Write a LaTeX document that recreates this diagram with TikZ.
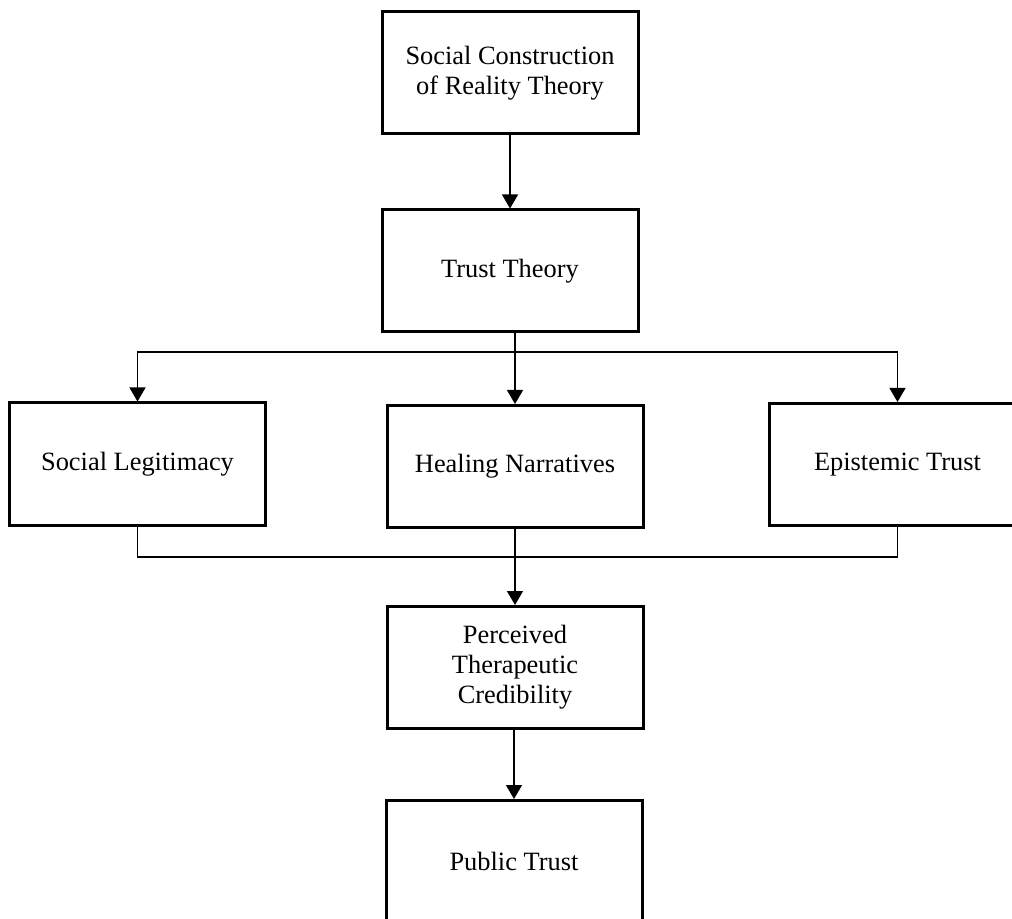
\documentclass[tikz,border=0pt]{standalone}
\usepackage{fontspec}
\setmainfont{Liberation Serif}
\usetikzlibrary{arrows.meta,calc}
\begin{document}
\begin{tikzpicture}[x=0.5pt,y=-0.5pt,
  box/.style={draw,line width=1.5pt,minimum width=128pt,minimum height=61pt,inner sep=0pt,align=center,font=\fontsize{13.2}{15}\selectfont},
  arr/.style={line width=0.7pt,-{Triangle[width=8pt,length=7pt]}},
  ln/.style={line width=0.7pt}]
\useasboundingbox (0,0) rectangle (1012,919);
\node[box] (src) at (510,73) {Social Construction\\of Reality Theory};
\node[box] (tt) at (510,271) {Trust Theory};
\node[box] (sl) at (137.5,464) {Social Legitimacy};
\node[box] (hn) at (515,466.5) {Healing Narratives};
\node[box] (et) at (897.5,464.5) {Epistemic Trust};
\node[box] (ptc) at (515,667.5) {Perceived\\Therapeutic\\Credibility};
\node[box] (pt) at (514,861.5) {Public Trust};
\coordinate (j1) at (515,352);
\coordinate (j2) at (515,557);
\draw[arr] (src.south) -- (tt.north);
\draw[arr] (tt.south -| hn.north) -- (hn.north);
\draw[arr] (j1) -| (sl.north);
\draw[arr] (j1) -| (et.north);
\draw[ln] (sl.south) |- (j2);
\draw[ln] (et.south) |- (j2);
\draw[arr] (hn.south) -- (ptc.north);
\draw[arr] (ptc.south -| pt.north) -- (pt.north);
\end{tikzpicture}
\end{document}
